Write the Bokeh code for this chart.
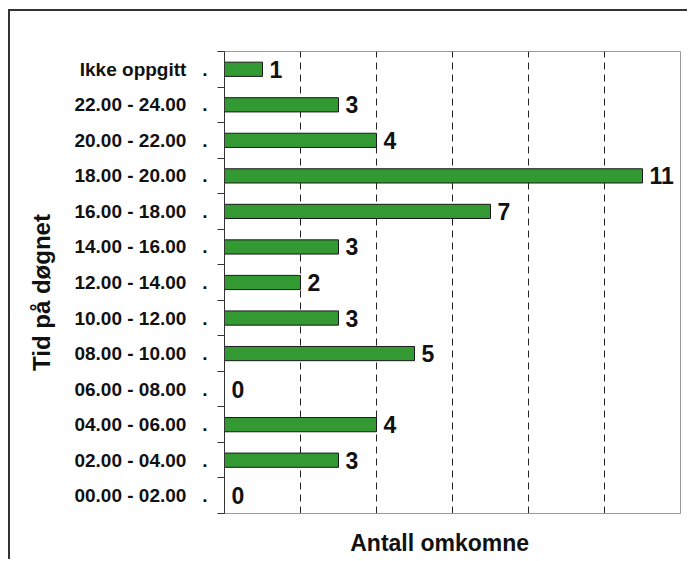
from bokeh.plotting import figure
from bokeh.models import Range1d, FixedTicker, ColumnDataSource
from bokeh.core.properties import value
from bokeh.embed import file_html
from bokeh.resources import INLINE

# Data (bottom to top)
categories = ["00.00 - 02.00", "02.00 - 04.00", "04.00 - 06.00", "06.00 - 08.00",
              "08.00 - 10.00", "10.00 - 12.00", "12.00 - 14.00", "14.00 - 16.00",
              "16.00 - 18.00", "18.00 - 20.00", "20.00 - 22.00", "22.00 - 24.00",
              "Ikke oppgitt"]
counts = [0, 3, 4, 0, 5, 3, 2, 3, 7, 11, 4, 3, 1]
grid_ticks = [2, 4, 6, 8, 10]
x_title = "Antall omkomne"
y_title = "Tid på døgnet"

FONT = "Liberation Sans"
NB = "\u00a0"
n = len(categories)
pos = [i + 0.5 for i in range(n)]

p = figure(width=679, height=550, output_backend="svg", toolbar_location=None,
           x_range=Range1d(0, 12), y_range=Range1d(0, n),
           min_border_left=214, min_border_right=9, min_border_top=40, min_border_bottom=48)
p.styles = {"border-left": "2px solid #333333", "border-top": "2px solid #333333",
            "margin-left": "8px", "margin-top": "9px"}

src = ColumnDataSource(dict(y=pos, v=counts, lbl=[str(c) for c in counts]))
p.hbar(y="y", left=0, right="v", height=0.4, source=src,
       fill_color="#339933", line_color="#1a1a1a", line_width=1)
p.text(x="v", y="y", text="lbl", source=src, x_offset=7, text_baseline="middle",
       text_align="left", text_font=value(FONT), text_font_style="bold",
       text_font_size="23px", text_color="#111111")

p.outline_line_color = "#999999"
p.ygrid.visible = False
p.xgrid.ticker = FixedTicker(ticks=grid_ticks)
p.xgrid.grid_line_color = "#222222"
p.xgrid.grid_line_dash = "7 5"
p.xgrid.grid_line_width = 1

xa = p.xaxis[0]
xa.ticker = FixedTicker(ticks=[])
xa.major_tick_out = 0
xa.minor_tick_out = 0
xa.axis_line_color = "#999999"
xa.axis_label = x_title + NB * 4
xa.axis_label_text_font = FONT
xa.axis_label_text_font_style = "bold"
xa.axis_label_text_font_size = "23px"
xa.axis_label_text_color = "#111111"
xa.axis_label_standoff = 16

ya = p.yaxis[0]
ya.ticker = FixedTicker(ticks=pos, minor_ticks=list(range(n + 1)))
ya.major_label_overrides = {pos[i]: categories[i] + NB * 3 + "." for i in range(n)}
ya.major_tick_out = 0
ya.major_tick_in = 0
ya.minor_tick_out = 7
ya.minor_tick_in = 0
ya.minor_tick_line_color = "#333333"
ya.axis_line_color = "#333333"
ya.major_label_text_font = FONT
ya.major_label_text_font_style = "bold"
ya.major_label_text_font_size = "19px"
ya.major_label_text_color = "#111111"
ya.major_label_standoff = 10
ya.axis_label = y_title + NB * 3
ya.axis_label_text_font = FONT
ya.axis_label_text_font_style = "bold"
ya.axis_label_text_font_size = "24px"
ya.axis_label_text_color = "#111111"
ya.axis_label_standoff = 16

open("out.html", "w").write(file_html(p, INLINE))
